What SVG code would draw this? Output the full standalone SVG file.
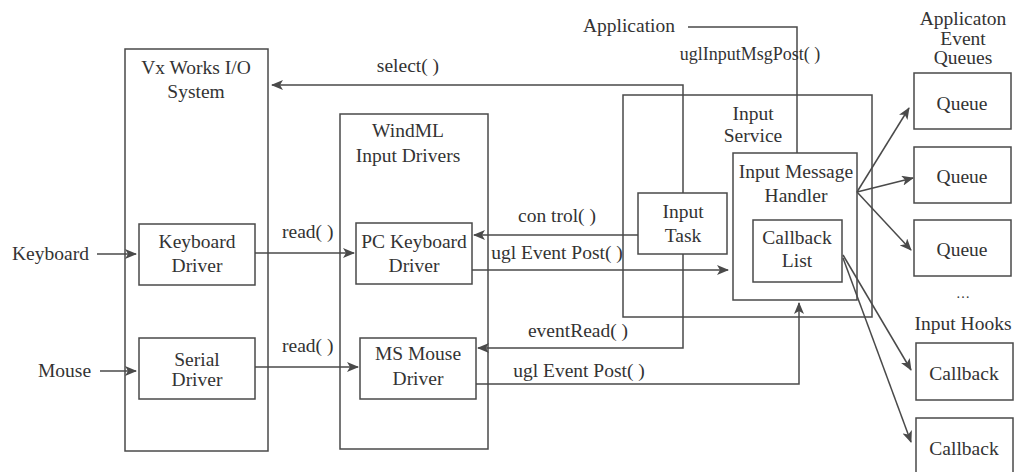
<svg xmlns="http://www.w3.org/2000/svg" width="1016" height="472" viewBox="0 0 1016 472">
<defs>
<style>
.box{fill:none;stroke:#4a4a4a;stroke-width:1.5}
.ln{fill:none;stroke:#4a4a4a;stroke-width:1.5}
text{font-size:19.5px;fill:#333}
.c{text-anchor:middle}
</style>
<marker id="ah" markerWidth="12" markerHeight="10" refX="11" refY="5" orient="auto" markerUnits="userSpaceOnUse">
<path d="M0,0 L12,5 L0,10 L3,5 Z" fill="#4a4a4a"/>
</marker>
</defs>
<rect width="1016" height="472" fill="#fff"/>
<g font-family="'Liberation Serif', 'DejaVu Serif', serif">
<g id="vxworks">
<rect class="box" x="125" y="49" width="143" height="402"/>
<text class="c" x="196" y="74">Vx Works I/O</text>
<text class="c" x="196" y="98">System</text>
</g>
<g id="keyboard-driver">
<rect class="box" x="139" y="224" width="116" height="61"/>
<text class="c" x="197" y="248">Keyboard</text>
<text class="c" x="197" y="272">Driver</text>
</g>
<g id="serial-driver">
<rect class="box" x="139" y="338" width="116" height="61"/>
<text class="c" x="197" y="366">Serial</text>
<text class="c" x="197" y="386">Driver</text>
</g>
<g id="keyboard"><text x="12" y="260">Keyboard</text></g>
<g id="mouse"><text x="38" y="377">Mouse</text></g>

<g id="windml">
<rect class="box" x="340" y="114" width="148" height="335"/>
<text class="c" x="408" y="137">WindML</text>
<text class="c" x="408" y="162">Input Drivers</text>
</g>
<g id="pc-keyboard-driver">
<rect class="box" x="356" y="223" width="116" height="61"/>
<text class="c" x="414" y="248">PC Keyboard</text>
<text class="c" x="414" y="272">Driver</text>
</g>
<g id="ms-mouse-driver">
<rect class="box" x="360" y="338" width="116" height="61"/>
<text class="c" x="418" y="360">MS Mouse</text>
<text class="c" x="418" y="385">Driver</text>
</g>

<g id="input-service">
<rect class="box" x="623" y="95" width="249" height="222"/>
<text class="c" x="753" y="120">Input</text>
<text class="c" x="753" y="142">Service</text>
</g>
<g id="input-task">
<rect class="box" x="638" y="193" width="89" height="61"/>
<text class="c" x="683" y="218">Input</text>
<text class="c" x="683" y="242">Task</text>
</g>
<g id="input-message-handler">
<rect class="box" x="733" y="153" width="124" height="147"/>
<text class="c" x="796" y="178">Input Message</text>
<text class="c" x="796" y="202">Handler</text>
</g>
<g id="callback-list">
<rect class="box" x="753" y="220" width="89" height="62"/>
<text class="c" x="797" y="244">Callback</text>
<text class="c" x="797" y="267">List</text>
</g>
<g id="application"><text x="675" y="32" text-anchor="end">Application</text></g>

<g id="queues-title">
<text class="c" x="963" y="25">Applicaton</text>
<text class="c" x="963" y="45">Event</text>
<text class="c" x="963" y="64">Queues</text>
</g>
<g id="queue1"><rect class="box" x="914" y="73" width="97" height="56"/><text class="c" x="962" y="110">Queue</text></g>
<g id="queue2"><rect class="box" x="914" y="147" width="97" height="56"/><text class="c" x="962" y="183">Queue</text></g>
<g id="queue3"><rect class="box" x="914" y="220" width="97" height="56"/><text class="c" x="962" y="256">Queue</text></g>
<g id="ellipsis"><text class="c" x="963" y="298" style="font-size:14px">…</text></g>
<g id="input-hooks"><text class="c" x="963" y="330">Input Hooks</text></g>
<g id="callback1"><rect class="box" x="916" y="343" width="97" height="57"/><text class="c" x="964" y="380">Callback</text></g>
<g id="callback2"><rect class="box" x="916" y="418" width="97" height="60"/><text class="c" x="964" y="455">Callback</text></g>

<g id="connectors">
<line class="ln" x1="97" y1="254" x2="136" y2="254" marker-end="url(#ah)"/>
<line class="ln" x1="100" y1="371" x2="136" y2="371" marker-end="url(#ah)"/>
<line class="ln" x1="255" y1="253" x2="354" y2="253" marker-end="url(#ah)"/>
<line class="ln" x1="255" y1="367" x2="358" y2="367" marker-end="url(#ah)"/>
<polyline class="ln" points="683,193 683,85 272,85" marker-end="url(#ah)"/>
<line class="ln" x1="638" y1="235" x2="474" y2="235" marker-end="url(#ah)"/>
<line class="ln" x1="472" y1="270" x2="728" y2="270" marker-end="url(#ah)"/>
<polyline class="ln" points="683,254 683,348 478,348" marker-end="url(#ah)"/>
<polyline class="ln" points="476,384 799,384 799,303" marker-end="url(#ah)"/>
<polyline class="ln" points="688,27 797,27 797,153"/>
<line class="ln" x1="857" y1="192" x2="909" y2="108" marker-end="url(#ah)"/>
<line class="ln" x1="857" y1="192" x2="913" y2="178" marker-end="url(#ah)"/>
<line class="ln" x1="857" y1="192" x2="911" y2="250" marker-end="url(#ah)"/>
<line class="ln" x1="843" y1="255" x2="911" y2="370" marker-end="url(#ah)"/>
<line class="ln" x1="843" y1="258" x2="911" y2="442" marker-end="url(#ah)"/>
<text x="282" y="238">read( )</text>
<text x="282" y="352">read( )</text>
<text class="c" x="408" y="72">select( )</text>
<text class="c" x="750" y="60" style="font-size:18px">uglInputMsgPost( )</text>
<text class="c" x="557" y="222">con trol( )</text>
<text class="c" x="557" y="259">ugl Event Post( )</text>
<text class="c" x="578" y="337">eventRead( )</text>
<text class="c" x="579" y="377">ugl Event Post( )</text>
</g>
</g>
</svg>
